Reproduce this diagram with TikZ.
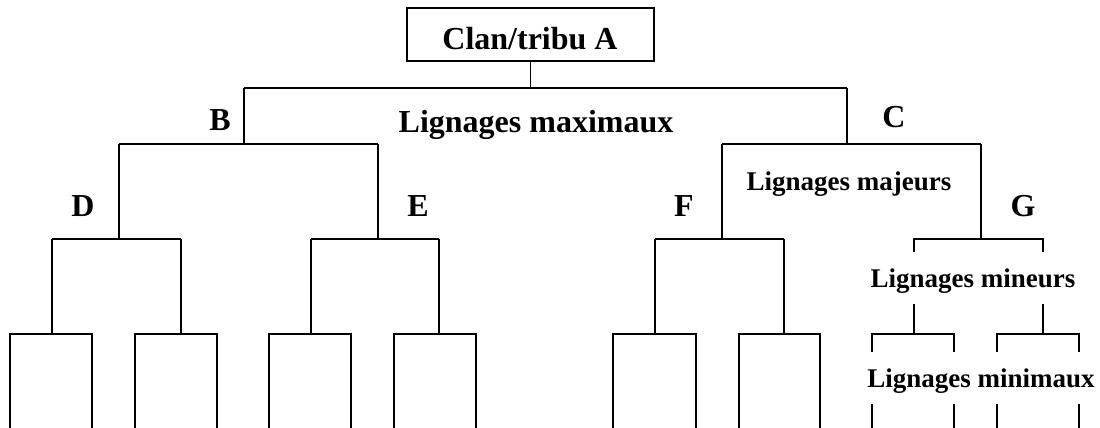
\documentclass[tikz,border=0pt]{standalone}
\usepackage{fontspec}
\setmainfont{Liberation Serif}
\begin{document}
\begin{tikzpicture}[x=1pt,y=-1pt,line width=1.9pt,line join=miter,
  big/.style={font=\fontsize{32}{36}\selectfont\bfseries,inner sep=0pt,anchor=base},
  small/.style={font=\fontsize{27}{30}\selectfont\bfseries,inner sep=0pt,anchor=base},
  boxnode/.style={draw,line width=1.9pt,minimum width=247pt,minimum height=53pt,inner sep=0pt}]
\useasboundingbox (0,0) rectangle (1100,428);
% root box
\node[boxnode] (A) at (530.5,34.5) {};
\node[big] (Atext) at (530,50) {Clan/tribu A};
% helper levels
\coordinate (bot) at (0,430);
\coordinate (tickG) at (0,252);
\coordinate (minA) at (0,304);
\coordinate (tickM) at (0,352);
\coordinate (minB) at (0,404);
% bar end points
\coordinate (L1l) at (244,88);  \coordinate (L1r) at (847,88);
\coordinate (Bl) at (119,144);  \coordinate (Br) at (378,144);
\coordinate (Cl) at (722,144);  \coordinate (Cr) at (981,144);
\coordinate (Dl) at (52,239);   \coordinate (Dr) at (181,239);
\coordinate (El) at (311,239);  \coordinate (Er) at (439,239);
\coordinate (Fl) at (655,239);  \coordinate (Fr) at (784,239);
\coordinate (Gl) at (914,239);  \coordinate (Gr) at (1043,239);
\coordinate (d1l) at (10,334);  \coordinate (d1r) at (92,334);
\coordinate (d2l) at (135,334); \coordinate (d2r) at (217,334);
\coordinate (e1l) at (269,334); \coordinate (e1r) at (351,334);
\coordinate (e2l) at (394,334); \coordinate (e2r) at (476,334);
\coordinate (f1l) at (613,334); \coordinate (f1r) at (696,334);
\coordinate (f2l) at (739,334); \coordinate (f2r) at (820,334);
\coordinate (g1l) at (872,334); \coordinate (g1r) at (954,334);
\coordinate (g2l) at (997,334); \coordinate (g2r) at (1079,334);
% level 1
\draw (A.south) -- (A.south |- L1l);
\draw (L1l) -- (L1r);
\draw (L1l) -- (L1l |- Bl);
\draw (L1r) -- (L1r |- Cl);
% level 2
\draw (Bl) -- (Br);
\draw (Cl) -- (Cr);
\draw (Bl) -- (Bl |- Dl);
\draw (Br) -- (Br |- El);
\draw (Cl) -- (Cl |- Fl);
\draw (Cr) -- (Cr |- Gl);
% level 3
\draw (Dl) -- (Dr);
\draw (El) -- (Er);
\draw (Fl) -- (Fr);
\draw (Gl |- tickG) -- (Gl) -- (Gr) -- (Gr |- tickG);
\draw (Dl) -- (Dl |- d1l);
\draw (Dr) -- (Dr |- d2l);
\draw (El) -- (El |- e1l);
\draw (Er) -- (Er |- e2l);
\draw (Fl) -- (Fl |- f1l);
\draw (Fr) -- (Fr |- f2l);
\draw (Gl |- minA) -- (Gl |- g1l);
\draw (Gr |- minA) -- (Gr |- g2l);
% leaves
\foreach \n in {d1,d2,e1,e2,f1,f2}{
  \draw (\n l |- bot) -- (\n l) -- (\n r) -- (\n r |- bot);
}
\foreach \n in {g1,g2}{
  \draw (\n l |- tickM) -- (\n l) -- (\n r) -- (\n r |- tickM);
  \draw (\n l |- minB) -- (\n l |- bot);
  \draw (\n r |- minB) -- (\n r |- bot);
}
% labels
\node[big] (labB) at (220,130) {B};
\node[big] (labC) at (894,127) {C};
\node[big] (labD) at (83,216) {D};
\node[big] (labE) at (418,216) {E};
\node[big] (labF) at (684,216) {F};
\node[big] (labG) at (1023,216) {G};
\node[big] (maxi) at (536,132) {Lignages maximaux};
\node[small] (maje) at (849,190) {Lignages majeurs};
\node[small] (mine) at (973,287) {Lignages mineurs};
\node[small] (mini) at (981,387) {Lignages minimaux};
\end{tikzpicture}
\end{document}
